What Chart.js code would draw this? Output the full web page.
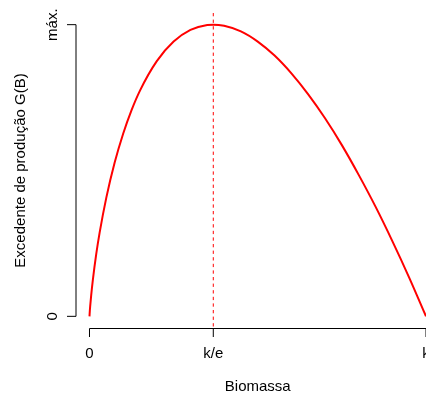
<!DOCTYPE html>
<html>
<head>
<meta charset="utf-8">
<script src="https://cdn.jsdelivr.net/npm/chart.js@4.4.1/dist/chart.umd.min.js"></script>
<style>
html,body{margin:0;padding:0;background:#fff;overflow:hidden;}
canvas{display:block;}
</style>
</head>
<body>
<canvas id="c" width="426" height="394"></canvas>
<script>
// Biomass (as fraction of k) and surplus production (as fraction of max)
const biomass = [0, 0.0005, 0.001, 0.002, 0.005, 0.01, 0.02, 0.03, 0.05, 0.075, 0.1, 0.125, 0.15, 0.2, 0.25, 0.3, 0.35, 0.3679, 0.4, 0.45, 0.5, 0.55, 0.6, 0.65, 0.7, 0.75, 0.8, 0.85, 0.9, 0.95, 1];
const surplus = [0, 0.010, 0.019, 0.034, 0.072, 0.125, 0.213, 0.286, 0.407, 0.528, 0.626, 0.707, 0.774, 0.875, 0.942, 0.982, 0.999, 1, 0.996, 0.977, 0.942, 0.894, 0.833, 0.761, 0.679, 0.587, 0.485, 0.376, 0.258, 0.133, 0];
const xTickValues = [0, 0.3679, 1];
const xTickLabels = ['0', 'k/e', 'k'];
const yTickValues = [0, 1];
const yTickLabels = ['0', 'máx.'];
const refLineX = 0.3679;
const xTitle = 'Biomassa';
const yTitle = 'Excedente de produção G(B)';

const FONT = '15px "Liberation Sans", Arial, sans-serif';

const rAxes = {
  id: 'rAxes',
  beforeDatasetsDraw(chart) {
    const {ctx, chartArea, scales} = chart;
    const x = scales.x.getPixelForValue(refLineX);
    ctx.save();
    ctx.strokeStyle = '#ff0000';
    ctx.lineWidth = 1;
    ctx.setLineDash([3.3, 3.3]);
    ctx.beginPath();
    ctx.moveTo(x, chartArea.top);
    ctx.lineTo(x, chartArea.bottom);
    ctx.stroke();
    ctx.restore();
  },
  afterDraw(chart) {
    const {ctx, chartArea, scales} = chart;
    const xs = scales.x, ys = scales.y;
    ctx.save();
    ctx.strokeStyle = '#000';
    ctx.fillStyle = '#000';
    ctx.lineWidth = 1;
    ctx.font = FONT;
    // x axis
    const ax = chartArea.bottom + 0.5;
    const x0 = xs.getPixelForValue(xTickValues[0]);
    const x1 = xs.getPixelForValue(xTickValues[xTickValues.length - 1]);
    ctx.beginPath();
    ctx.moveTo(x0, ax);
    ctx.lineTo(x1 + 5, ax);
    ctx.stroke();
    ctx.textAlign = 'center';
    ctx.textBaseline = 'alphabetic';
    xTickValues.forEach((v, i) => {
      const px = xs.getPixelForValue(v);
      ctx.beginPath();
      ctx.moveTo(px, ax);
      ctx.lineTo(px, ax + 8.5);
      ctx.stroke();
      ctx.fillText(xTickLabels[i], px, ax + 29);
    });
    ctx.fillText(xTitle, (chartArea.left + xs.getPixelForValue(1.04)) / 2, ax + 62);
    // y axis
    const ay = chartArea.left;
    const y0 = ys.getPixelForValue(yTickValues[0]);
    const y1 = ys.getPixelForValue(yTickValues[yTickValues.length - 1]);
    ctx.beginPath();
    ctx.moveTo(ay, y0);
    ctx.lineTo(ay, y1);
    ctx.stroke();
    yTickValues.forEach((v, i) => {
      const py = ys.getPixelForValue(v);
      ctx.beginPath();
      ctx.moveTo(ay, py);
      ctx.lineTo(ay - 9, py);
      ctx.stroke();
      ctx.save();
      ctx.translate(ay - 19, py);
      ctx.rotate(-Math.PI / 2);
      ctx.textAlign = 'center';
      ctx.fillText(yTickLabels[i], 0, 0);
      ctx.restore();
    });
    ctx.save();
    ctx.translate(24.5, (chartArea.top + chartArea.bottom) / 2);
    ctx.rotate(-Math.PI / 2);
    ctx.textAlign = 'center';
    ctx.fillText(yTitle, 0, 0);
    ctx.restore();
    ctx.restore();
  }
};

new Chart(document.getElementById('c'), {
  type: 'line',
  data: {
    datasets: [{
      data: biomass.map((b, i) => ({x: b, y: surplus[i]})),
      borderColor: '#ff0000',
      borderWidth: 2,
      pointRadius: 0,
      fill: false,
      cubicInterpolationMode: 'monotone'
    }]
  },
  options: {
    responsive: false,
    animation: false,
    events: [],
    layout: {padding: {left: 76, right: 0, top: 13, bottom: 66}},
    plugins: {legend: {display: false}, tooltip: {enabled: false}},
    scales: {
      x: {type: 'linear', min: -0.0401, max: 1, display: false},
      y: {type: 'linear', min: -0.04, max: 1.04, display: false}
    }
  },
  plugins: [rAxes]
});
</script>
</body>
</html>
